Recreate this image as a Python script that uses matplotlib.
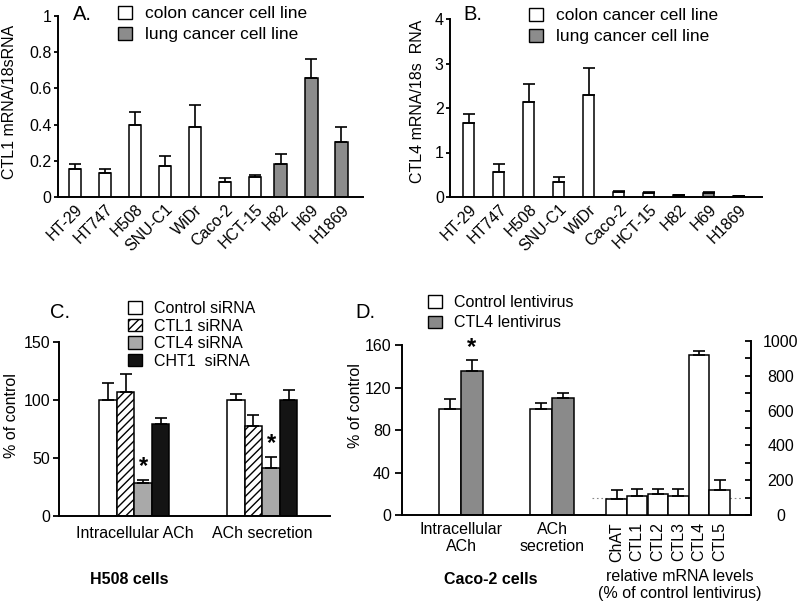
import numpy as np
import matplotlib
matplotlib.use('Agg')
import matplotlib.pyplot as plt
from matplotlib.patches import Patch

plt.rcParams['font.family'] = ['Liberation Sans', 'DejaVu Sans']
plt.rcParams['hatch.linewidth'] = 1.0

# ---- data ----
# panels A and B: cell lines
cell_lines = ['HT-29', 'HT747', 'H508', 'SNU-C1', 'WiDr', 'Caco-2', 'HCT-15', 'H82', 'H69', 'H1869']
is_lung = [False, False, False, False, False, False, False, True, True, True]
ctl1_mrna = [0.155, 0.13, 0.40, 0.17, 0.385, 0.085, 0.11, 0.18, 0.655, 0.305]
ctl1_err = [0.03, 0.026, 0.068, 0.058, 0.125, 0.022, 0.012, 0.057, 0.108, 0.084]
ctl4_mrna = [1.66, 0.56, 2.13, 0.34, 2.30, 0.11, 0.10, 0.045, 0.09, 0.03]
ctl4_err = [0.21, 0.18, 0.42, 0.12, 0.60, 0.02, 0.012, 0.0, 0.015, 0.0]

# panel C: H508 siRNA
sirna_groups = ['Intracellular ACh', 'ACh secretion']
sirna_names = ['Control siRNA', 'CTL1 siRNA', 'CTL4 siRNA', 'CHT1  siRNA']
control_si = [100, 100]
control_si_err = [14.6, 5.5]
ctl1_si = [107, 77.4]
ctl1_si_err = [15, 9.5]
ctl4_si = [28.7, 41.6]
ctl4_si_err = [2.3, 8.9]
cht1_si = [78.9, 100]
cht1_si_err = [5.4, 9]

# panel D: Caco-2 lentivirus
lenti_groups = ['Intracellular\nACh', 'ACh\nsecretion']
lenti_names = ['Control lentivirus', 'CTL4 lentivirus']
control_lv = [100, 100]
control_lv_err = [9, 5.8]
ctl4_lv = [136, 110]
ctl4_lv_err = [9.5, 4.4]
genes = ['ChAT', 'CTL1', 'CTL2', 'CTL3', 'CTL4', 'CTL5']
gene_rel = [94, 109, 119, 111, 917, 141]
gene_err = [47, 42, 32, 36, 28, 61]

W, H = 800, 606
FS = 11.5
fig = plt.figure(figsize=(W / 100, H / 100), dpi=100)


def px_axes(x0, y0, x1, y1):
    # axes box given in pixels from the top left corner
    return fig.add_axes([x0 / W, 1 - y1 / H, (x1 - x0) / W, (y1 - y0) / H])


def style(ax, ticklen=3, pad=2):
    for s in ['top', 'right']:
        ax.spines[s].set_visible(False)
    for s in ['left', 'bottom']:
        ax.spines[s].set_linewidth(1.4)
    ax.tick_params(axis='y', direction='out', length=ticklen, width=1.3, pad=pad, labelsize=FS)
    ax.tick_params(axis='x', length=0, labelsize=FS)


def up_err(ax, x, y, e):
    ax.errorbar(x, y, yerr=[np.zeros(len(e)), e], fmt='none', ecolor='black',
                elinewidth=1.2, capsize=4, capthick=1.2, zorder=3)


def legend(ax, handles, labels, x, y, spacing, size=FS):
    ax.legend(handles, labels, loc='upper left', bbox_to_anchor=(x / W, 1 - y / H),
              bbox_transform=fig.transFigure, frameon=False, fontsize=size,
              handlelength=0.85 * FS / size, handleheight=0.8 * FS / size,
              handletextpad=0.8, borderpad=0, borderaxespad=0, labelspacing=spacing)


def ylabel(ax, text, x, y):
    ax.set_ylabel(text, fontsize=FS)
    ax.yaxis.set_label_coords(x / W, 1 - y / H, transform=fig.transFigure)
    ax.yaxis.label.set_va('center')


gray = '#8c8c8c'
cols = [gray if l else 'white' for l in is_lung]
type_handles = [Patch(facecolor='white', edgecolor='black', linewidth=1),
                Patch(facecolor=gray, edgecolor='black', linewidth=1)]
type_labels = ['colon cancer cell line', 'lung cancer cell line']

# ---- A ----
axA = px_axes(58, 16, 363, 197)
xA = np.array([0, 1, 2, 3, 4, 5, 6, 6.85, 7.87, 8.87])
axA.bar(xA, ctl1_mrna, width=0.43, color=cols, edgecolor='black', linewidth=1.1, zorder=2)
up_err(axA, xA, ctl1_mrna, ctl1_err)
axA.set_xlim(-0.567, 9.6)
axA.set_ylim(0, 1)
axA.set_yticks([0, 0.2, 0.4, 0.6, 0.8, 1])
axA.set_yticklabels(['0', '0.2', '0.4', '0.6', '0.8', '1'])
axA.set_xticks(xA)
axA.set_xticklabels(cell_lines, rotation=45, ha='right', va='top', rotation_mode='anchor')
style(axA, 3, 1.5)
ylabel(axA, 'CTL1 mRNA/18sRNA', 10, 102)
legend(axA, type_handles, type_labels, 118, 6, 0.33, 12.5)
fig.text(73 / W, 1 - 14 / H, 'A.', fontsize=14.5, va='center')

# ---- B ----
axB = px_axes(450, 19, 762, 197)
xB = np.arange(len(cell_lines))
axB.bar(xB, ctl4_mrna, width=0.37, color=cols, edgecolor='black', linewidth=1.1, zorder=2)
up_err(axB, xB, ctl4_mrna, ctl4_err)
axB.set_xlim(-0.63, 9.77)
axB.set_ylim(0, 4)
axB.set_yticks([0, 1, 2, 3, 4])
axB.set_xticks(xB)
axB.set_xticklabels(cell_lines, rotation=45, ha='right', va='top', rotation_mode='anchor')
style(axB, 3, 1.5)
ylabel(axB, 'CTL4 mRNA/18s  RNA', 417, 101)
legend(axB, type_handles, type_labels, 529, 8, 0.33, 12.5)
fig.text(463 / W, 1 - 14 / H, 'B.', fontsize=14.5, va='center')

# ---- C ----
axC = px_axes(59, 342, 330, 516)
gC = np.array([0, 7.3])
si_vals = [control_si, ctl1_si, ctl4_si, cht1_si]
si_errs = [control_si_err, ctl1_si_err, ctl4_si_err, cht1_si_err]
si_face = ['white', 'white', '#a9a9a9', '#141414']
si_hatch = [None, '////', None, None]
for i in range(4):
    xi = gC + (i - 1.5)
    axC.bar(xi, si_vals[i], width=1, color=si_face[i], hatch=si_hatch[i],
            edgecolor='black', linewidth=1.1, zorder=2)
    up_err(axC, xi, si_vals[i], si_errs[i])
for j in range(2):
    axC.text(gC[j] + 0.5, ctl4_si[j] + ctl4_si_err[j] + 2, '*', ha='center', va='bottom',
             fontsize=17, fontweight='bold')
axC.set_xlim(-4.31, 11.17)
axC.set_ylim(0, 150)
axC.set_yticks([0, 50, 100, 150])
axC.set_xticks(gC)
axC.set_xticklabels(sirna_groups)
style(axC, 4, 2.5)
axC.tick_params(axis='x', pad=7)
ylabel(axC, '% of control', 12, 416)
si_handles = [Patch(facecolor=si_face[i], edgecolor='black', linewidth=1, hatch=si_hatch[i])
              for i in range(4)]
legend(axC, si_handles, sirna_names, 128, 301, 0.16)
fig.text(50 / W, 1 - 312 / H, 'C.', fontsize=14.5, va='center')
fig.text(129 / W, 1 - 580 / H, 'H508 cells', fontsize=FS, fontweight='bold', ha='center', va='center')

# ---- D ----
axD = px_axes(402, 341, 751, 515)
gD = np.array([0, 4.14])
lv_gray = '#8a8a8a'
axD.bar(gD - 0.5, control_lv, width=1, color='white', edgecolor='black', linewidth=1.1, zorder=2)
axD.bar(gD + 0.5, ctl4_lv, width=1, color=lv_gray, edgecolor='black', linewidth=1.1, zorder=2)
up_err(axD, gD - 0.5, control_lv, control_lv_err)
up_err(axD, gD + 0.5, ctl4_lv, ctl4_lv_err)
axD.text(gD[0] + 0.5, ctl4_lv[0] + ctl4_lv_err[0] + 1, '*', ha='center', va='bottom',
         fontsize=17, fontweight='bold')
axD.set_xlim(-2.68, 13.18)
axD.set_ylim(0, 163.8)
axD.set_yticks([0, 40, 80, 120, 160])
style(axD, 5, 3)
axD.spines['left'].set_bounds(0, 160)
ylabel(axD, '% of control', 355, 406)

axD2 = axD.twinx()
xg = 7.07 + 0.936 * np.arange(len(genes))
axD2.bar(xg, gene_rel, width=0.93, color='white', edgecolor='black', linewidth=1.1, zorder=2)
up_err(axD2, xg, gene_rel, gene_err)
axD2.hlines(100, 5.95, 12.82, colors='#888888', linestyles=(0, (1.5, 2.5)), linewidth=0.8, zorder=1)
axD2.set_ylim(0, 1000)
axD2.set_yticks(np.arange(0, 1001, 100))
axD2.set_yticklabels([str(v) if v % 200 == 0 else '' for v in range(0, 1001, 100)])
for s in ['top', 'left', 'bottom']:
    axD2.spines[s].set_visible(False)
axD2.spines['right'].set_linewidth(1.4)
axD2.tick_params(axis='y', direction='in', length=4, width=1.3, pad=21.5, labelsize=FS)
for lab in axD2.get_yticklabels():
    lab.set_ha('center')

axD.set_xticks(list(gD) + list(xg))
axD.set_xticklabels(lenti_groups + genes)
for k, lab in enumerate(axD.get_xticklabels()):
    if k >= 2:
        lab.set_rotation(90)
axD.tick_params(axis='x', pad=5)
legend(axD, [Patch(facecolor='white', edgecolor='black', linewidth=1),
             Patch(facecolor=lv_gray, edgecolor='black', linewidth=1)],
       lenti_names, 428, 295, 0.34)
fig.text(355 / W, 1 - 313 / H, 'D.', fontsize=14.5, va='center')
fig.text(491 / W, 1 - 580 / H, 'Caco-2 cells', fontsize=FS, fontweight='bold', ha='center', va='center')
fig.text(680 / W, 1 - 585 / H, 'relative mRNA levels\n(% of control lentivirus)', fontsize=FS,
         ha='center', va='center')

fig.savefig('out.png', dpi=100)
